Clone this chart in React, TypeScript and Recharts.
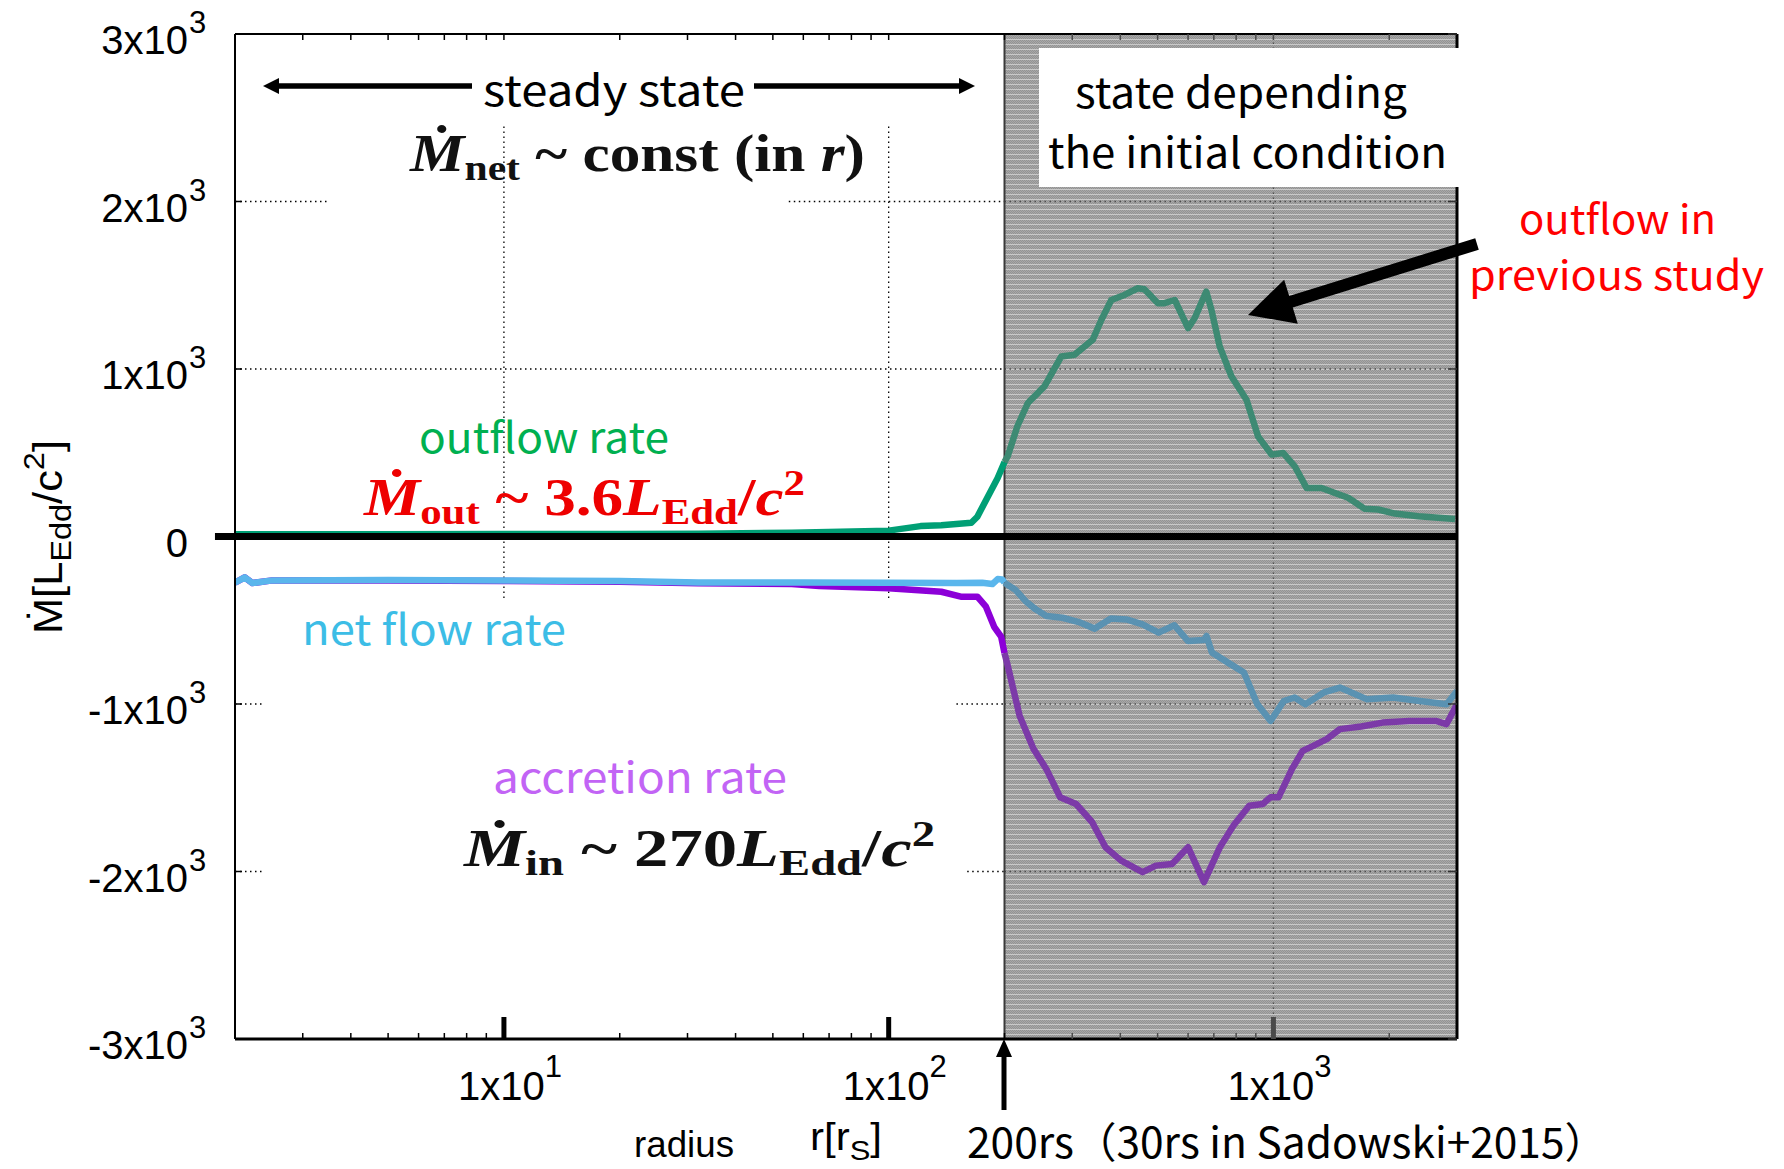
import React from "react";
import { LineChart, Line, XAxis, YAxis, ReferenceLine, ReferenceArea } from "recharts";

type P = { r: number; v: number };

const xDomain: [number, number] = [2, 3000];
const yDomain: [number, number] = [-3000, 3000];
const xMajorTicks = [10, 100, 1000];
const xMajorMantissa = ["1x10", "1x10", "1x10"];
const xMajorExp = ["1", "2", "3"];
const xMinorTicks = [3, 4, 5, 6, 7, 8, 9, 20, 30, 40, 50, 60, 70, 80, 90, 200, 300, 400, 500, 600, 700, 800, 900, 2000];
const yTicks = [3000, 2000, 1000, 0, -1000, -2000, -3000];
const yTickMantissa = ["3x10", "2x10", "1x10", "0", "-1x10", "-2x10", "-3x10"];
const yTickExp = ["3", "3", "3", "", "3", "3", "3"];
const shadeFrom = 200;
const shadeTo = 3000;

const outflowSteady: P[] = [
  { r: 2, v: 14 }, { r: 5, v: 14 }, { r: 10, v: 15 }, { r: 20, v: 15 }, { r: 32, v: 16 },
  { r: 56, v: 23 }, { r: 100, v: 35 }, { r: 121, v: 62 }, { r: 137, v: 67 }, { r: 164, v: 82 },
  { r: 170, v: 118 }, { r: 181, v: 238 }, { r: 192, v: 349 }, { r: 200, v: 445 },
];
const outflowInitial: P[] = [
  { r: 200, v: 445 }, { r: 204, v: 480 }, { r: 216, v: 658 }, { r: 230, v: 797 }, { r: 254, v: 896 },
  { r: 281, v: 1075 }, { r: 304, v: 1085 }, { r: 339, v: 1174 }, { r: 357, v: 1293 }, { r: 379, v: 1412 },
  { r: 410, v: 1442 }, { r: 444, v: 1482 }, { r: 462, v: 1476 }, { r: 501, v: 1393 }, { r: 521, v: 1393 },
  { r: 554, v: 1412 }, { r: 600, v: 1244 }, { r: 624, v: 1303 }, { r: 669, v: 1462 }, { r: 690, v: 1353 },
  { r: 725, v: 1134 }, { r: 778, v: 955 }, { r: 851, v: 816 }, { r: 912, v: 598 }, { r: 989, v: 489 },
  { r: 1060, v: 499 }, { r: 1136, v: 419 }, { r: 1219, v: 290 }, { r: 1334, v: 290 }, { r: 1445, v: 260 },
  { r: 1564, v: 231 }, { r: 1728, v: 165 }, { r: 1872, v: 161 }, { r: 2069, v: 137 }, { r: 2381, v: 121 },
  { r: 2965, v: 105 },
];
const netSteady: P[] = [
  { r: 2, v: -276 }, { r: 2.12, v: -244 }, { r: 2.22, v: -278 }, { r: 2.5, v: -262 }, { r: 5, v: -260 },
  { r: 10, v: -263 }, { r: 20, v: -266 }, { r: 32, v: -275 }, { r: 60, v: -274 }, { r: 100, v: -276 },
  { r: 150, v: -277 }, { r: 175, v: -276 }, { r: 186, v: -284 }, { r: 192, v: -254 }, { r: 197, v: -256 },
  { r: 200, v: -275 },
];
const netInitial: P[] = [
  { r: 200, v: -275 }, { r: 203, v: -286 }, { r: 213, v: -316 }, { r: 227, v: -386 }, { r: 241, v: -435 },
  { r: 257, v: -475 }, { r: 283, v: -485 }, { r: 312, v: -511 }, { r: 343, v: -550 }, { r: 378, v: -490 },
  { r: 415, v: -495 }, { r: 457, v: -524 }, { r: 503, v: -574 }, { r: 553, v: -530 }, { r: 600, v: -624 },
  { r: 660, v: -618 }, { r: 670, v: -594 }, { r: 692, v: -693 }, { r: 762, v: -753 }, { r: 838, v: -812 },
  { r: 908, v: -1001 }, { r: 983, v: -1101 }, { r: 1064, v: -982 }, { r: 1135, v: -961 }, { r: 1210, v: -1001 },
  { r: 1352, v: -931 }, { r: 1489, v: -902 }, { r: 1746, v: -971 }, { r: 2047, v: -961 }, { r: 2401, v: -982 },
  { r: 2818, v: -1001 }, { r: 3000, v: -922 },
];
const accretionSteady: P[] = [
  { r: 2, v: -276 }, { r: 2.12, v: -244 }, { r: 2.22, v: -278 }, { r: 2.5, v: -262 }, { r: 5, v: -262 },
  { r: 10, v: -265 }, { r: 20, v: -270 }, { r: 32, v: -279 }, { r: 56, v: -284 }, { r: 66, v: -296 },
  { r: 100, v: -309 }, { r: 137, v: -330 }, { r: 154, v: -359 }, { r: 170, v: -359 }, { r: 179, v: -419 },
  { r: 188, v: -539 }, { r: 196, v: -598 }, { r: 200, v: -696 },
];
const accretionInitial: P[] = [
  { r: 200, v: -696 }, { r: 203, v: -753 }, { r: 219, v: -1071 }, { r: 238, v: -1269 }, { r: 257, v: -1389 },
  { r: 279, v: -1557 }, { r: 307, v: -1597 }, { r: 338, v: -1706 }, { r: 366, v: -1855 }, { r: 402, v: -1935 },
  { r: 457, v: -2004 }, { r: 495, v: -1965 }, { r: 545, v: -1955 }, { r: 600, v: -1855 }, { r: 660, v: -2064 },
  { r: 726, v: -1855 }, { r: 787, v: -1726 }, { r: 865, v: -1607 }, { r: 938, v: -1597 }, { r: 983, v: -1557 },
  { r: 1031, v: -1557 }, { r: 1117, v: -1389 }, { r: 1191, v: -1280 }, { r: 1269, v: -1250 }, { r: 1375, v: -1210 },
  { r: 1489, v: -1150 }, { r: 1691, v: -1134 }, { r: 1921, v: -1111 }, { r: 2253, v: -1101 }, { r: 2642, v: -1101 },
  { r: 2818, v: -1120 }, { r: 3000, v: -1001 },
];

const SANS = "'Liberation Sans', Arial, Helvetica, sans-serif";
const JP = "'Noto Sans CJK JP', 'Noto Sans', sans-serif";
const SERIF = "'Liberation Serif', 'DejaVu Serif', serif";

const allXTicks = [...xMinorTicks, ...xMajorTicks].sort((a, b) => a - b);

const BottomTick = (p: any) => {
  const { x, y, payload } = p;
  const v = payload.value;
  const i = xMajorTicks.indexOf(v);
  const col = v > shadeFrom ? "#4a4a4a" : "#000";
  if (i < 0) return <line x1={x} x2={x} y1={y} y2={y - 6} stroke={col} strokeWidth={1.5} />;
  return (
    <g>
      <line x1={x} x2={x} y1={y} y2={y - 22} stroke={col} strokeWidth={5} />
      <text x={x + 6} y={y + 61} textAnchor="middle" fontFamily={SANS} fontSize={40} fill="#000">
        {xMajorMantissa[i]}
        <tspan fontSize={31} dy={-23}>{xMajorExp[i]}</tspan>
      </text>
    </g>
  );
};

const TopTick = (p: any) => {
  const { x, y, payload } = p;
  const col = payload.value > shadeFrom ? "#4a4a4a" : "#000";
  return <line x1={x} x2={x} y1={y} y2={y + 6} stroke={col} strokeWidth={1.5} />;
};

const LeftTick = (p: any) => {
  const { x, y, payload } = p;
  const i = yTicks.indexOf(payload.value);
  return (
    <g>
      <line x1={x} x2={x + 7} y1={y} y2={y} stroke="#000" strokeWidth={1.5} />
      <text x={x - 47} y={y + 20} textAnchor="end" fontFamily={SANS} fontSize={40} fill="#000">
        {yTickMantissa[i]}
      </text>
      {yTickExp[i] ? (
        <text x={x - 46} y={y - 1} textAnchor="start" fontFamily={SANS} fontSize={31} fill="#000">
          {yTickExp[i]}
        </text>
      ) : null}
    </g>
  );
};

const RightTick = (p: any) => {
  const { x, y } = p;
  return <line x1={x} x2={x - 9} y1={y} y2={y} stroke="#333" strokeWidth={1.5} />;
};

const arrowPts = (x1: number, y1: number, x2: number, y2: number, sw: number, hl: number, hw: number) => {
  const dx = x2 - x1, dy = y2 - y1, L = Math.hypot(dx, dy);
  const ux = dx / L, uy = dy / L, nx = -uy, ny = ux;
  const bx = x2 - ux * hl, by = y2 - uy * hl;
  const pts = [
    [x1 + (nx * sw) / 2, y1 + (ny * sw) / 2],
    [bx + (nx * sw) / 2, by + (ny * sw) / 2],
    [bx + (nx * hw) / 2, by + (ny * hw) / 2],
    [x2, y2],
    [bx - (nx * hw) / 2, by - (ny * hw) / 2],
    [bx - (nx * sw) / 2, by - (ny * sw) / 2],
    [x1 - (nx * sw) / 2, y1 - (ny * sw) / 2],
  ];
  return pts.map((q) => q.join(",")).join(" ");
};

const dotW = { stroke: "#000", strokeWidth: 1.3, strokeDasharray: "1.5 3.5" };
const dotS = { stroke: "#4d4d4d", strokeWidth: 1.3, strokeDasharray: "1.5 3.5" };

const Overlay = () => (
  <svg width={1784} height={1169} style={{ position: "absolute", left: 0, top: 0, pointerEvents: "none" }}>
    <rect x={1039} y={48} width={420} height={139} fill="#fff" />
    <text x={1075} y={108} fontFamily={JP} fontSize={42} textLength={332} lengthAdjust="spacingAndGlyphs" fill="#000">state depending</text>
    <text x={1048} y={168} fontFamily={JP} fontSize={42} textLength={399} lengthAdjust="spacingAndGlyphs" fill="#000">the initial condition</text>

    <polygon points={arrowPts(472, 86, 263, 86, 5.5, 16, 16)} fill="#000" />
    <polygon points={arrowPts(754, 86, 975, 86, 5.5, 16, 16)} fill="#000" />
    <text x={483} y={106} fontFamily={JP} fontSize={42} textLength={262} lengthAdjust="spacingAndGlyphs" fill="#000">steady state</text>

    <text x={410} y={171} fontFamily={SERIF} fontWeight="bold" fontSize={53} textLength={455} lengthAdjust="spacingAndGlyphs" fill="#111">
      <tspan fontStyle="italic">Ṁ</tspan>
      <tspan fontSize={36} dy={9}>net</tspan>
      <tspan dy={-9}> ~ const (in </tspan>
      <tspan fontStyle="italic">r</tspan>
      <tspan>)</tspan>
    </text>

    <text x={1519} y={234} fontFamily={JP} fontSize={40} textLength={197} lengthAdjust="spacingAndGlyphs" fill="#ff0000">outflow in</text>
    <text x={1469} y={290} fontFamily={JP} fontSize={40} textLength={295} lengthAdjust="spacingAndGlyphs" fill="#ff0000">previous study</text>
    <polygon points={arrowPts(1477, 244, 1248, 315, 12, 45, 46)} fill="#000" />

    <text x={419} y={453} fontFamily={JP} fontSize={42} textLength={250} lengthAdjust="spacingAndGlyphs" fill="#00b050">outflow rate</text>
    <text x={364} y={515} fontFamily={SERIF} fontWeight="bold" fontSize={53} textLength={441} lengthAdjust="spacingAndGlyphs" fill="#ee0000">
      <tspan fontStyle="italic">Ṁ</tspan>
      <tspan fontSize={36} dy={9}>out</tspan>
      <tspan dy={-9}> ~ 3.6</tspan>
      <tspan fontStyle="italic">L</tspan>
      <tspan fontSize={36} dy={9}>Edd</tspan>
      <tspan dy={-9}>/</tspan>
      <tspan fontStyle="italic">c</tspan>
      <tspan fontSize={36} dy={-20}>2</tspan>
    </text>

    <text x={302} y={645} fontFamily={JP} fontSize={42} textLength={264} lengthAdjust="spacingAndGlyphs" fill="#3cbde6">net flow rate</text>
    <text x={493} y={793} fontFamily={JP} fontSize={42} textLength={294} lengthAdjust="spacingAndGlyphs" fill="#c264f5">accretion rate</text>
    <text x={464} y={866} fontFamily={SERIF} fontWeight="bold" fontSize={53} textLength={471} lengthAdjust="spacingAndGlyphs" fill="#111">
      <tspan fontStyle="italic">Ṁ</tspan>
      <tspan fontSize={36} dy={9}>in</tspan>
      <tspan dy={-9}> ~ 270</tspan>
      <tspan fontStyle="italic">L</tspan>
      <tspan fontSize={36} dy={9}>Edd</tspan>
      <tspan dy={-9}>/</tspan>
      <tspan fontStyle="italic">c</tspan>
      <tspan fontSize={36} dy={-20}>2</tspan>
    </text>

    <text transform="translate(62,634) rotate(-90)" fontFamily={SANS} fontSize={40} textLength={194} lengthAdjust="spacingAndGlyphs" fill="#000">
      Ṁ[L<tspan fontSize={30} dy={9}>Edd</tspan>
      <tspan dy={-9}>/c</tspan>
      <tspan fontSize={30} dy={-18}>2</tspan>
      <tspan dy={18}>]</tspan>
    </text>

    <polygon points={arrowPts(1004, 1110, 1004, 1039, 5, 18, 16)} fill="#000" />
    <text x={634} y={1157} fontFamily={SANS} fontSize={36} textLength={100} lengthAdjust="spacingAndGlyphs" fill="#000">radius</text>
    <text x={810} y={1150} fontFamily={SANS} fontSize={38} textLength={72} lengthAdjust="spacingAndGlyphs" fill="#000">
      r[r<tspan fontSize={28} dy={10}>S</tspan>
      <tspan dy={-10}>]</tspan>
    </text>
    <text x={967} y={1158} fontFamily={JP} fontSize={42} textLength={640} lengthAdjust="spacingAndGlyphs" fill="#000">200rs（30rs in Sadowski+2015）</text>
  </svg>
);

export default function App() {
  const lw = 6.5;
  return (
    <div style={{ position: "absolute", left: 0, top: 0, width: 1784, height: 1169, background: "#fff" }}>
      <svg width={0} height={0} style={{ position: "absolute" }}>
        <defs>
          <pattern id="shade" patternUnits="userSpaceOnUse" width={2} height={5}>
            <rect x={0} y={0} width={2} height={5} fill="#a8a8a8" />
            <rect x={0} y={0} width={1} height={1} fill="#939393" />
            <rect x={1} y={1} width={1} height={1} fill="#939393" />
            <rect x={0} y={2} width={1} height={1} fill="#939393" />
            <rect x={1} y={3} width={1} height={1} fill="#939393" />
            <rect x={0} y={4} width={2} height={1} fill="#c9c9c9" />
          </pattern>
        </defs>
      </svg>
      <LineChart width={1784} height={1169} margin={{ top: 24, right: 317, bottom: 100, left: 0 }}>
        <XAxis
          dataKey="r" type="number" scale="log" domain={xDomain} allowDataOverflow ticks={allXTicks} interval={0}
          height={30} tickSize={0} tickMargin={0} tickLine={false} tick={(p: any) => <BottomTick {...p} />}
          axisLine={{ stroke: "#000", strokeWidth: 3 }}
        />
        <XAxis
          xAxisId="top" orientation="top" dataKey="r" type="number" scale="log" domain={xDomain} allowDataOverflow
          ticks={allXTicks} interval={0} height={10} tickSize={0} tickMargin={0} tickLine={false}
          tick={(p: any) => <TopTick {...p} />} axisLine={{ stroke: "#000", strokeWidth: 2 }}
        />
        <YAxis
          type="number" domain={yDomain} allowDataOverflow ticks={yTicks} interval={0} width={235}
          tickSize={0} tickMargin={0} tickLine={false} tick={(p: any) => <LeftTick {...p} />}
          axisLine={{ stroke: "#000", strokeWidth: 2 }}
        />
        <YAxis
          yAxisId="right" orientation="right" type="number" domain={yDomain} allowDataOverflow
          ticks={yTicks.filter((t) => t !== 0)} interval={0} width={10} tickSize={0} tickMargin={0} tickLine={false}
          tick={(p: any) => <RightTick {...p} />} axisLine={{ stroke: "#000", strokeWidth: 3 }}
        />

        <ReferenceArea x1={shadeFrom} x2={shadeTo} y1={yDomain[0]} y2={yDomain[1]} fill="url(#shade)" fillOpacity={1} stroke="none" ifOverflow="hidden" />

        <ReferenceLine segment={[{ x: 2, y: 2000 }, { x: 3.5, y: 2000 }]} {...dotW} />
        <ReferenceLine segment={[{ x: 55, y: 2000 }, { x: shadeFrom, y: 2000 }]} {...dotW} />
        <ReferenceLine segment={[{ x: 2, y: 1000 }, { x: shadeFrom, y: 1000 }]} {...dotW} />
        <ReferenceLine segment={[{ x: 2, y: -1000 }, { x: 2.37, y: -1000 }]} {...dotW} />
        <ReferenceLine segment={[{ x: 150, y: -1000 }, { x: shadeFrom, y: -1000 }]} {...dotW} />
        <ReferenceLine segment={[{ x: 2, y: -2000 }, { x: 2.37, y: -2000 }]} {...dotW} />
        <ReferenceLine segment={[{ x: 160, y: -2000 }, { x: shadeFrom, y: -2000 }]} {...dotW} />
        <ReferenceLine segment={[{ x: 10, y: -367 }, { x: 10, y: 2469 }]} {...dotW} />
        <ReferenceLine segment={[{ x: 100, y: -367 }, { x: 100, y: 2469 }]} {...dotW} />
        {[2000, 1000, -1000, -2000].map((g) => (
          <ReferenceLine key={g} segment={[{ x: shadeFrom, y: g }, { x: shadeTo, y: g }]} {...dotS} />
        ))}
        <ReferenceLine segment={[{ x: 1000, y: -3000 }, { x: 1000, y: 3000 }]} {...dotS} />
        <ReferenceLine x={shadeFrom} stroke="#3a3a3a" strokeWidth={2} />

        <Line data={accretionSteady} dataKey="v" type="linear" stroke="#8c00d8" strokeWidth={lw} dot={false} isAnimationActive={false} strokeLinejoin="round" />
        <Line data={netSteady} dataKey="v" type="linear" stroke="#5ab6ec" strokeWidth={lw} dot={false} isAnimationActive={false} strokeLinejoin="round" />
        <Line data={outflowSteady} dataKey="v" type="linear" stroke="#009f75" strokeWidth={lw} dot={false} isAnimationActive={false} strokeLinejoin="round" />
        <Line data={accretionInitial} dataKey="v" type="linear" stroke="#7c3aa8" strokeWidth={lw} dot={false} isAnimationActive={false} strokeLinejoin="round" />
        <Line data={netInitial} dataKey="v" type="linear" stroke="#5a92b2" strokeWidth={lw} dot={false} isAnimationActive={false} strokeLinejoin="round" />
        <Line data={outflowInitial} dataKey="v" type="linear" stroke="#3d8a73" strokeWidth={lw} dot={false} isAnimationActive={false} strokeLinejoin="round" />

        <ReferenceLine segment={[{ x: 1.774, y: 0 }, { x: shadeTo, y: 0 }]} stroke="#000" strokeWidth={7} ifOverflow="visible" />
      </LineChart>
      <Overlay />
    </div>
  );
}
